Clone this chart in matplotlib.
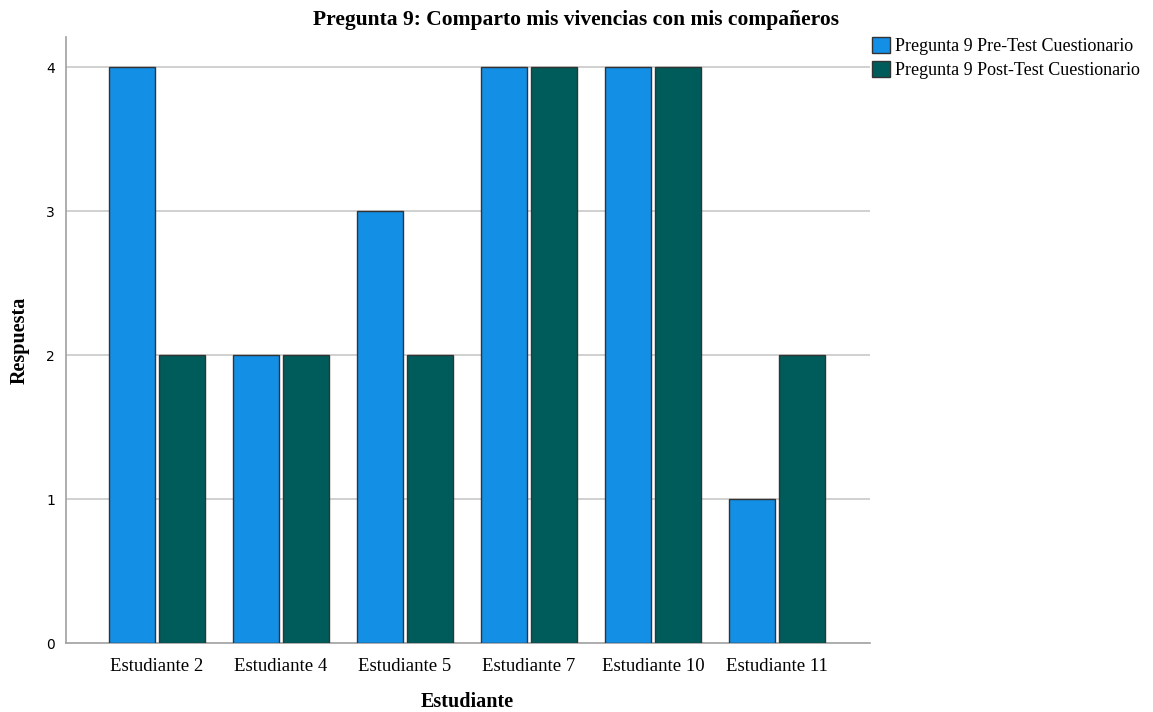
import numpy as np
import matplotlib.pyplot as plt

estudiantes = ["Estudiante 2", "Estudiante 4", "Estudiante 5", "Estudiante 7", "Estudiante 10", "Estudiante 11"]
pre_test = [4, 2, 3, 4, 4, 1]
post_test = [2, 2, 2, 4, 4, 2]
yticks = [0, 1, 2, 3, 4]

SERIF = ["Liberation Serif", "DejaVu Serif"]

fig = plt.figure(figsize=(11.53, 7.12), dpi=100)
ax = fig.add_axes([0.0572, 0.0969, 0.6974, 0.8511])

x = np.arange(len(estudiantes))
w = 0.371
ax.bar(x - 0.205, pre_test, w, color="#138FE6", edgecolor="#333333", linewidth=1.0,
       label="Pregunta 9 Pre-Test Cuestionario", zorder=3)
ax.bar(x + 0.205, post_test, w, color="#005C5A", edgecolor="#333333", linewidth=1.0,
       label="Pregunta 9 Post-Test Cuestionario", zorder=3)

ax.set_xlim(-0.734, 5.75)
ax.set_ylim(0, 4.21)
ax.set_yticks(yticks)
ax.set_yticklabels([str(t) for t in yticks], fontsize=10, family="DejaVu Sans")
ax.set_xticks(x)
ax.set_xticklabels(estudiantes, fontsize=13.5, family=SERIF)
ax.tick_params(length=0)
ax.tick_params(axis="x", pad=11)
ax.tick_params(axis="y", pad=8)

for t in yticks[1:]:
    ax.axhline(t, color="#C8C8C8", linewidth=1.2, zorder=1)

for s in ["top", "right"]:
    ax.spines[s].set_visible(False)
for s in ["left", "bottom"]:
    ax.spines[s].set_color("#A0A0A0")
    ax.spines[s].set_linewidth(1.2)

fig.text(467 / 1153, 1 - 702 / 712, "Estudiante", ha="center", va="center",
         fontsize=14.5, fontweight="bold", family=SERIF)
fig.text(20 / 1153, 1 - 340 / 712, "Respuesta", ha="center", va="center", rotation=90,
         fontsize=14.5, fontweight="bold", family=SERIF)

fig.text(576 / 1153, 1 - 20 / 712, "Pregunta 9: Comparto mis vivencias con mis compañeros",
         ha="center", va="center", fontsize=15.5, fontweight="bold", family=SERIF)

leg = fig.legend(loc="upper left", bbox_to_anchor=(872 / 1153, 1 - 37 / 712), frameon=False,
                 prop={"family": SERIF, "size": 13}, handlelength=1.0, handleheight=1.0,
                 handletextpad=0.3, labelspacing=0.3, borderaxespad=0, borderpad=0)

fig.savefig("out.png", dpi=100)
